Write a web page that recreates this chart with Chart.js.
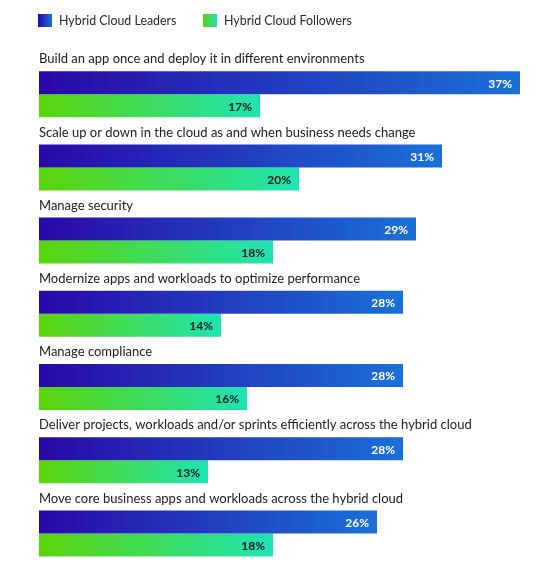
<!DOCTYPE html>
<html>
<head>
<meta charset="utf-8">
<script src="https://cdn.jsdelivr.net/npm/chart.js@4.4.0/dist/chart.umd.min.js"></script>
<style>
  html, body { margin: 0; padding: 0; background: #ffffff; }
  #wrap { position: relative; width: 540px; height: 570px; }
</style>
</head>
<body>
<div id="wrap"><canvas id="chart"></canvas></div>
<script>
// Hybrid cloud leaders vs followers - horizontal grouped bars

const categories = [
  'Build an app once and deploy it in different environments',
  'Scale up or down in the cloud as and when business needs change',
  'Manage security',
  'Modernize apps and workloads to optimize performance',
  'Manage compliance',
  'Deliver projects, workloads and/or sprints efficiently across the hybrid cloud',
  'Move core business apps and workloads across the hybrid cloud'
];

const seriesNames = ['Hybrid Cloud Leaders', 'Hybrid Cloud Followers'];
const leaders = [37, 31, 29, 28, 28, 28, 26];
const followers = [17, 20, 18, 14, 16, 13, 18];

const FONT = 'Lato, "Noto Sans", sans-serif';
const LEADER_STOPS = ['#2a08a8', '#1a70d8'];
const FOLLOWER_STOPS = ['#5cd40a', '#1fe4b2'];

// gradient running along each bar, from its base to its tip
function barGradient(stops) {
  return function(context) {
    const chart = context.chart;
    const xScale = chart.scales.x;
    if (!chart.chartArea || !xScale || context.parsed == null) return stops[0];
    const x0 = xScale.getPixelForValue(0);
    const x1 = xScale.getPixelForValue(context.parsed.x);
    if (x1 - x0 < 1) return stops[0];
    const g = chart.ctx.createLinearGradient(x0, 0, x1, 0);
    g.addColorStop(0, stops[0]);
    g.addColorStop(1, stops[1]);
    return g;
  };
}

// category titles, value labels and legend drawn on the canvas
const annotations = {
  id: 'annotations',
  afterDatasetsDraw(chart) {
    const ctx = chart.ctx;
    const metaL = chart.getDatasetMeta(0);
    const metaF = chart.getDatasetMeta(1);
    ctx.save();
    ctx.textBaseline = 'middle';

    // category titles above each pair
    ctx.font = '13px ' + FONT;
    ctx.fillStyle = '#222222';
    ctx.textAlign = 'left';
    metaL.data.forEach((bar, i) => {
      const top = bar.y - bar.height / 2;
      ctx.fillText(categories[i], chart.chartArea.left, top - 12);
    });

    // values at bar ends
    ctx.font = 'bold 12px ' + FONT;
    ctx.textAlign = 'right';
    metaL.data.forEach((bar, i) => {
      ctx.fillStyle = '#ffffff';
      ctx.fillText(leaders[i] + '%', bar.x - 8, bar.y + 1);
    });
    metaF.data.forEach((bar, i) => {
      ctx.fillStyle = '#1a1a2a';
      ctx.fillText(followers[i] + '%', bar.x - 8, bar.y + 1);
    });

    // legend
    const items = [
      { x: 38, stops: LEADER_STOPS, label: seriesNames[0] },
      { x: 203, stops: FOLLOWER_STOPS, label: seriesNames[1] }
    ];
    ctx.font = '12.4px ' + FONT;
    ctx.textAlign = 'left';
    items.forEach(it => {
      const g = ctx.createLinearGradient(it.x, 0, it.x + 14, 0);
      g.addColorStop(0, it.stops[0]);
      g.addColorStop(1, it.stops[1]);
      ctx.fillStyle = g;
      ctx.fillRect(it.x, 14, 14, 13);
      ctx.fillStyle = '#2a2a2a';
      ctx.fillText(it.label, it.x + 21, 21);
    });

    ctx.restore();
  }
};

const chart = new Chart(document.getElementById('chart'), {
  type: 'bar',
  data: {
    labels: categories,
    datasets: [
      {
        label: seriesNames[0],
        data: leaders,
        backgroundColor: barGradient(LEADER_STOPS),
        borderWidth: 0
      },
      {
        label: seriesNames[1],
        data: followers,
        backgroundColor: barGradient(FOLLOWER_STOPS),
        borderWidth: 0
      }
    ]
  },
  options: {
    indexAxis: 'y',
    responsive: true,
    maintainAspectRatio: false,
    animation: false,
    categoryPercentage: 0.628,
    barPercentage: 1.0,
    layout: {
      padding: { left: 39, right: 7, top: 57.6, bottom: 0 }
    },
    scales: {
      x: { display: false, min: 0, max: 38 },
      y: { display: false }
    },
    plugins: {
      legend: { display: false },
      tooltip: { enabled: false }
    }
  },
  plugins: [annotations]
});
</script>
</body>
</html>
